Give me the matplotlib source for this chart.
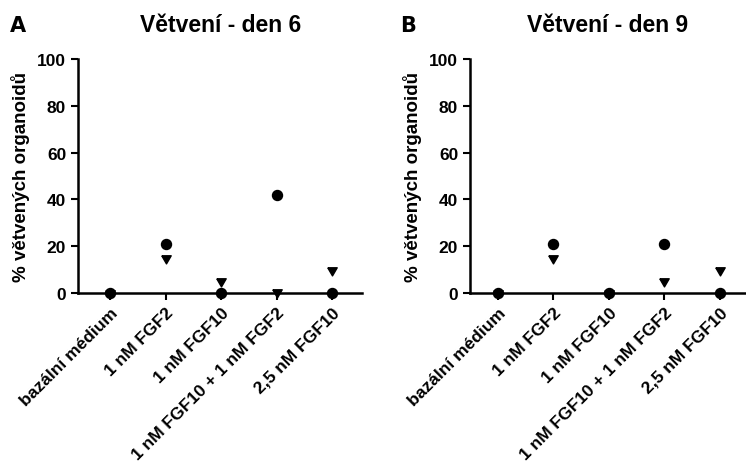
import matplotlib.pyplot as plt
import numpy as np

plt.rcParams['font.family'] = ['Liberation Sans', 'DejaVu Sans']
plt.rcParams['font.weight'] = 'bold'

categories = ['bazální médium', '1 nM FGF2', '1 nM FGF10',
              '1 nM FGF10 + 1 nM FGF2', '2,5 nM FGF10']
yticks = [0, 20, 40, 60, 80, 100]

# den 6
circ_d6 = [0, 21, 0, 42, 0]
tri_d6 = [0, 15, 5, 0.5, 10]
# den 9
circ_d9 = [0, 21, 0, 21, 0]
tri_d9 = [0, 15, 0, 5, 10]

# trojuhelnik vystredeny v tezisti (jako v GraphPadu)
tri_marker = [(-0.87, 0.5), (0.87, 0.5), (0, -1), (-0.87, 0.5)]

fig = plt.figure(figsize=(7.46, 4.64), dpi=100)
axA = fig.add_axes([0.1046, 0.3664, 0.381, 0.5043])
axB = fig.add_axes([0.630, 0.3664, 0.3686, 0.5043])

panels = [(axA, circ_d6, tri_d6, 'Větvení - den 6', 'A', (-0.58, 4.54), 10),
          (axB, circ_d9, tri_d9, 'Větvení - den 9', 'B', (-0.5, 4.45), 400)]

x = np.arange(len(categories))
for ax, circ, tri, title, letter, xl, lx in panels:
    ax.plot(x, tri, linestyle='none', marker=tri_marker, color='black', markersize=7.8, clip_on=False, zorder=3)
    ax.plot(x, circ, linestyle='none', marker='o', color='black', markersize=7.2, clip_on=False, zorder=4)
    ax.set_xlim(*xl)
    ax.set_ylim(0, 100)
    ax.set_yticks(yticks)
    ax.set_xticks(x)
    ax.set_xticklabels(categories, rotation=45, ha='right', rotation_mode='anchor', fontsize=12.5)
    ax.tick_params(axis='y', labelsize=12.5, width=1.5, length=5)
    ax.tick_params(axis='x', width=1.5, length=5)
    for s in ['top', 'right']:
        ax.spines[s].set_visible(False)
    for s in ['left', 'bottom']:
        ax.spines[s].set_linewidth(1.8)
    ax.set_ylabel('% větvených organoidů', fontsize=13.5, fontweight='bold', labelpad=5)
    ax.set_title(title, fontsize=16.5, fontweight='bold', pad=20)
    fig.text(lx / 746, 1 - 32 / 464, letter, fontsize=15, fontweight='bold',
             family='DejaVu Sans', ha='left', va='baseline')

fig.savefig('out.png', dpi=100)
